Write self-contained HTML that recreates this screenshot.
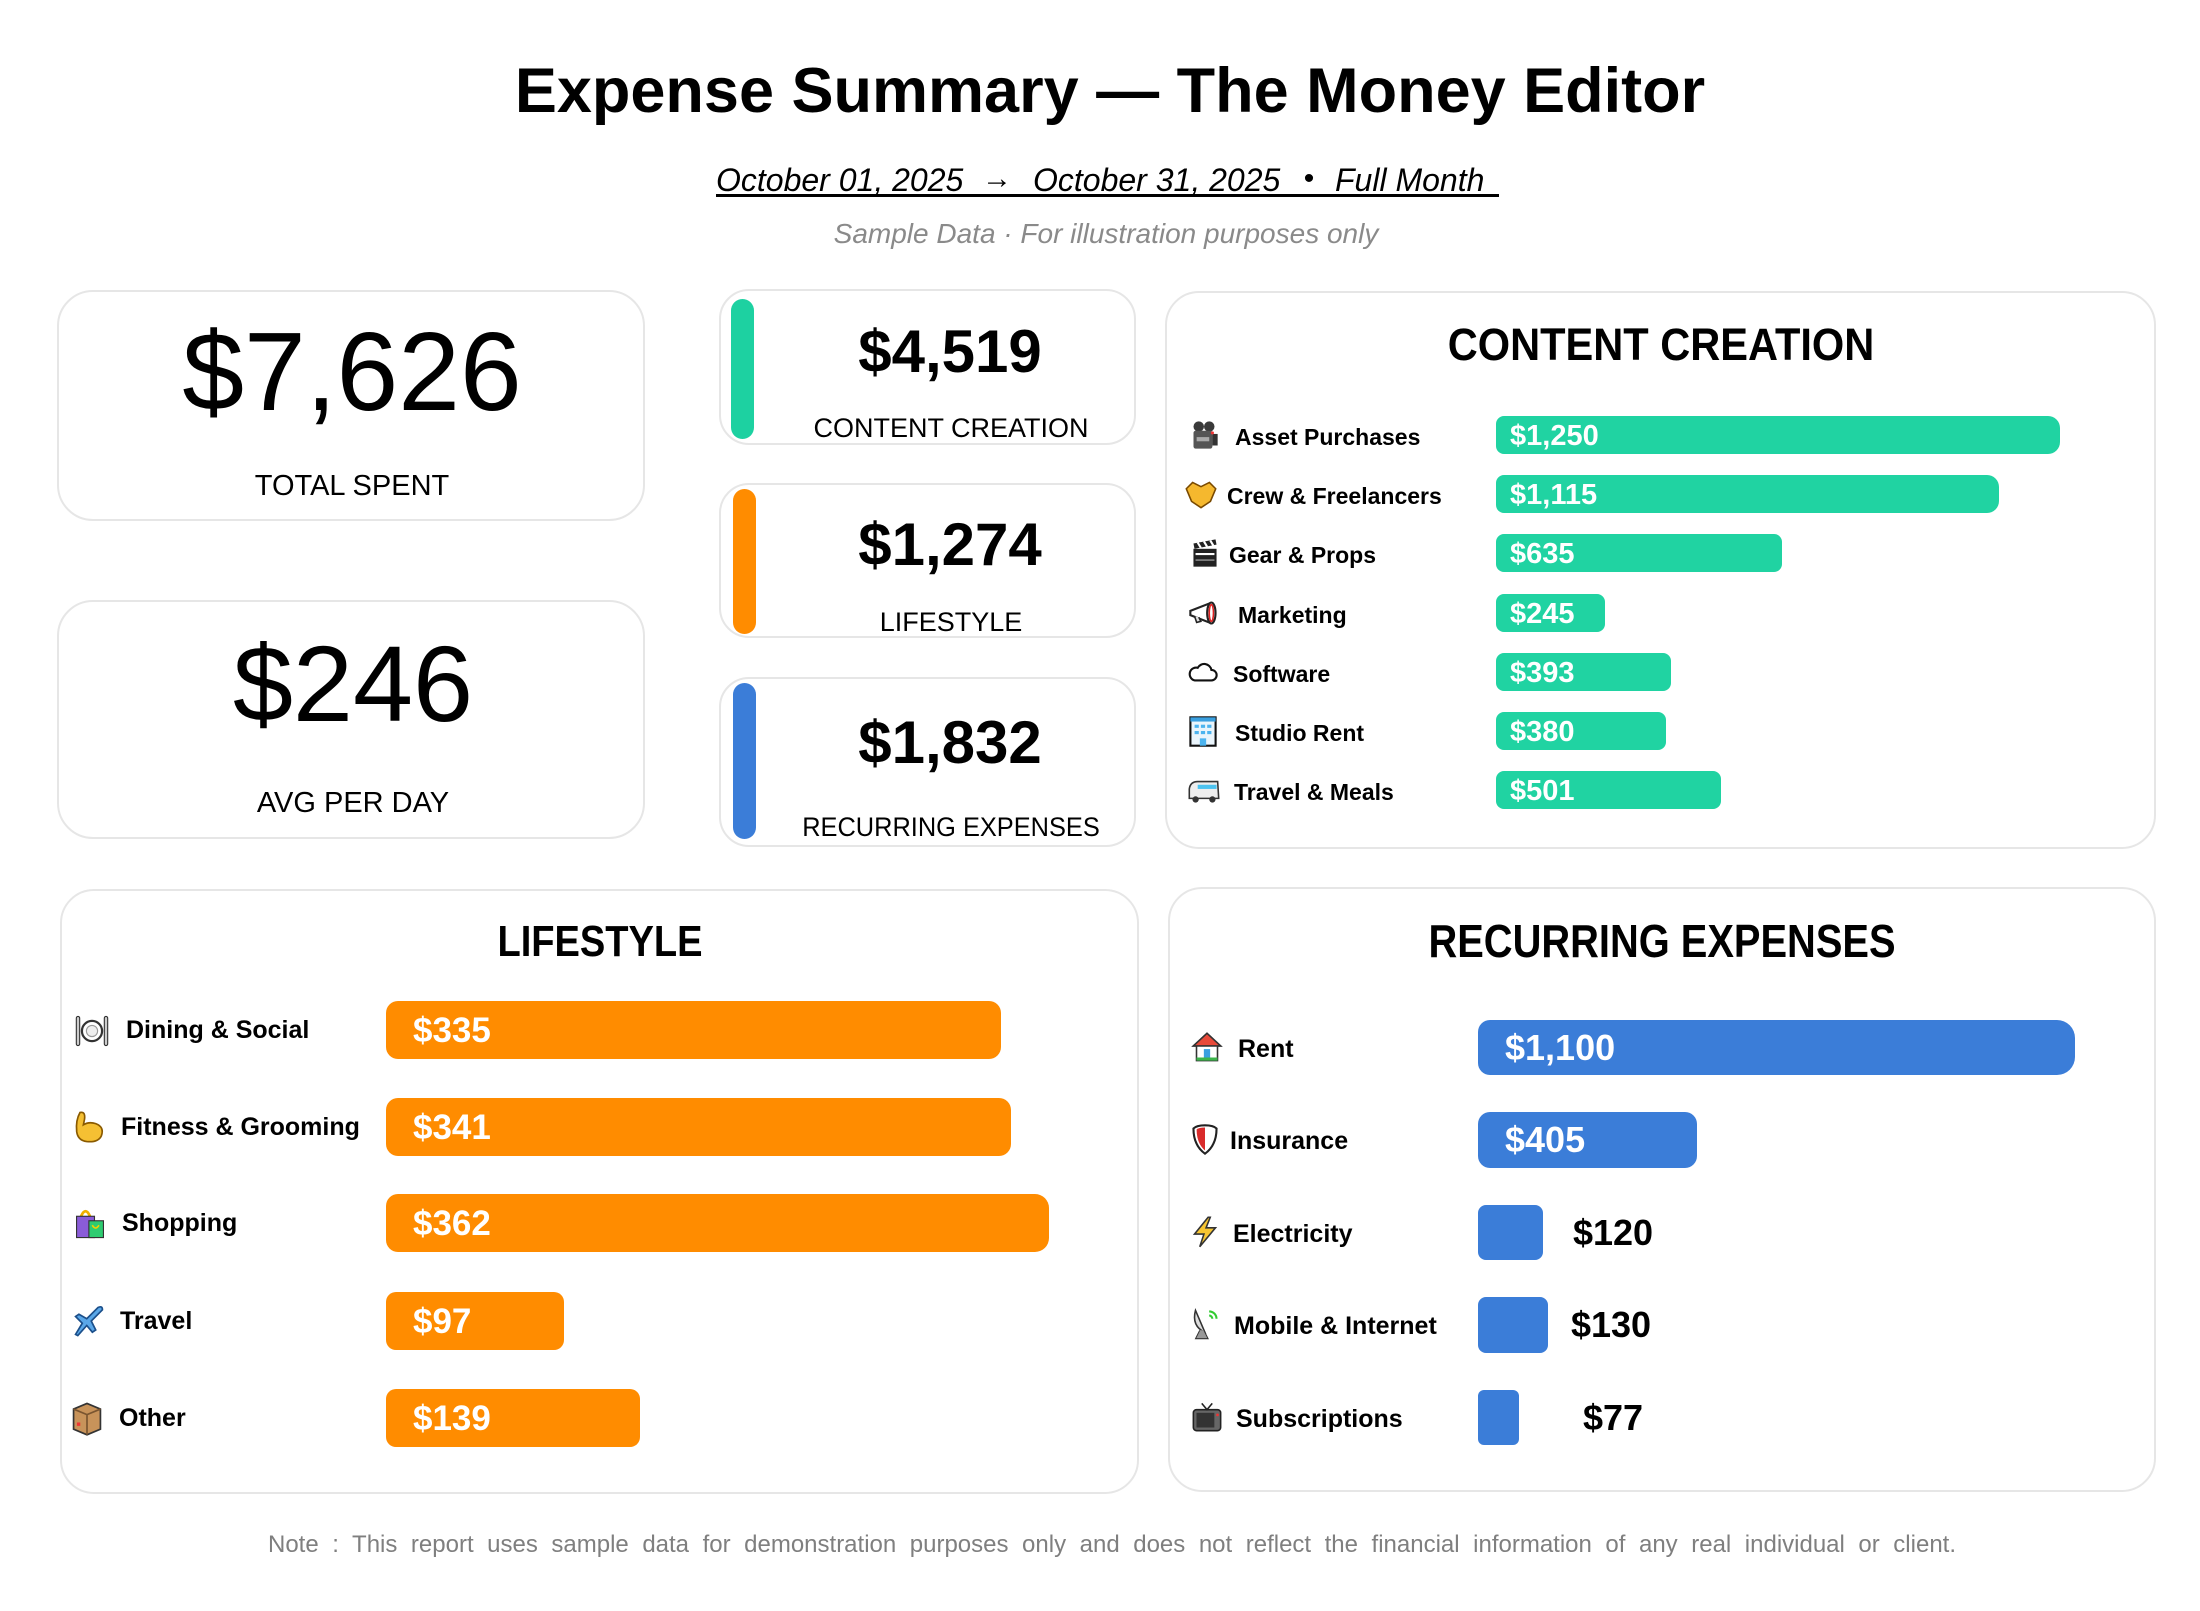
<!DOCTYPE html>
<html>
<head>
<meta charset="utf-8">
<style>
html,body{margin:0;padding:0;}
body{width:2200px;height:1611px;background:#fff;position:relative;overflow:hidden;font-family:"Liberation Sans",Arial,sans-serif;color:#000;}
.t{position:absolute;white-space:nowrap;line-height:1;}
.c{transform:translateX(-50%);}
.b{font-weight:bold;}
.card{position:absolute;border:2px solid #e6e6e6;box-sizing:border-box;background:#fff;}
.bar{position:absolute;}
.teal{background:#20d3a2;}
.org{background:#ff8c00;}
.blu{background:#3b7dd8;}
.wl{position:absolute;color:#fff;font-weight:bold;white-space:nowrap;line-height:1;}
.ic{position:absolute;transform:scale(1.12);}
</style>
</head>
<body>

<!-- Header -->
<div class="t c b" style="left:1110px;top:60px;font-size:63px;">Expense Summary — The Money Editor</div>

<div class="t" style="left:716px;top:164px;font-size:32px;font-style:italic;">October 01, 2025</div>
<div class="t c" style="left:997px;top:164px;font-size:30px;">→</div>
<div class="t" style="left:1033px;top:164px;font-size:32px;font-style:italic;">October 31, 2025</div>
<div class="t c" style="left:1309px;top:164px;font-size:30px;">•</div>
<div class="t" style="left:1335px;top:164px;font-size:32px;font-style:italic;">Full Month</div>
<div style="position:absolute;left:716px;top:194px;width:783px;height:3px;background:#000;"></div>

<div class="t c" style="left:1106px;top:220px;font-size:28px;font-style:italic;color:#8a8a8a;">Sample Data · For illustration purposes only</div>

<!-- KPI cards -->
<div class="card" style="left:57px;top:290px;width:588px;height:231px;border-radius:36px;"></div>
<div class="t c" style="left:352px;top:317px;font-size:111px;">$7,626</div>
<div class="t c" style="left:352px;top:472px;font-size:29px;">TOTAL SPENT</div>

<div class="card" style="left:57px;top:600px;width:588px;height:239px;border-radius:36px;"></div>
<div class="t c" style="left:353px;top:630px;font-size:108px;">$246</div>
<div class="t c" style="left:353px;top:789px;font-size:29px;">AVG PER DAY</div>

<!-- Middle category cards -->
<div class="card" style="left:719px;top:289px;width:417px;height:156px;border-radius:30px;"></div>
<div class="bar" style="left:731px;top:299px;width:23px;height:140px;border-radius:12px;background:#1dd1a1;"></div>
<div class="t c b" style="left:950px;top:322px;font-size:60px;">$4,519</div>
<div class="t c" style="left:951px;top:415px;font-size:27px;">CONTENT CREATION</div>

<div class="card" style="left:719px;top:483px;width:417px;height:155px;border-radius:30px;"></div>
<div class="bar" style="left:733px;top:489px;width:23px;height:145px;border-radius:12px;background:#ff8c00;"></div>
<div class="t c b" style="left:950px;top:515px;font-size:60px;">$1,274</div>
<div class="t c" style="left:951px;top:609px;font-size:27px;">LIFESTYLE</div>

<div class="card" style="left:719px;top:677px;width:417px;height:170px;border-radius:30px;"></div>
<div class="bar" style="left:733px;top:683px;width:23px;height:156px;border-radius:12px;background:#3b7dd8;"></div>
<div class="t c b" style="left:950px;top:713px;font-size:60px;">$1,832</div>
<div class="t c" style="left:951px;top:814px;font-size:27px;transform:translateX(-50%) scaleX(0.94);">RECURRING EXPENSES</div>

<!-- CONTENT CREATION panel -->
<div class="card" style="left:1165px;top:291px;width:991px;height:558px;border-radius:34px;"></div>
<div class="t b" style="left:1661px;top:322px;font-size:45px;transform:translateX(-50%) scaleX(0.924);">CONTENT CREATION</div>

<!-- row 1 -->
<svg class="ic" style="left:1189px;top:420px" width="30" height="30" viewBox="0 0 32 32"><circle cx="11" cy="8" r="5" fill="#3a3a3a"/><circle cx="21" cy="8" r="5" fill="#3a3a3a"/><rect x="6" y="12" width="18" height="17" rx="2" fill="#555"/><rect x="9" y="18" width="12" height="4" fill="#aaa"/><rect x="24" y="15" width="5" height="11" fill="#333"/><circle cx="24" cy="14" r="1.5" fill="#e33"/></svg>
<div class="t b" style="left:1235px;top:426px;font-size:23px;">Asset Purchases</div>
<div class="bar teal" style="left:1496px;top:416px;width:564px;height:38px;border-radius:8px 12px 12px 8px;"></div>
<div class="wl" style="left:1510px;top:422px;font-size:29px;">$1,250</div>

<!-- row 2 -->
<svg class="ic" style="left:1186px;top:479px" width="30" height="30" viewBox="0 0 32 32"><path d="M2 11 L8 5 L16 9 L24 5 L30 11 L25 23 L16 29 L7 23 Z" fill="#f5b82e" stroke="#7a4a00" stroke-width="1.5"/></svg>
<div class="t b" style="left:1227px;top:485px;font-size:23px;">Crew &amp; Freelancers</div>
<div class="bar teal" style="left:1496px;top:475px;width:503px;height:38px;border-radius:8px 12px 12px 8px;"></div>
<div class="wl" style="left:1510px;top:481px;font-size:29px;">$1,115</div>

<!-- row 3 -->
<svg class="ic" style="left:1190px;top:538px" width="30" height="30" viewBox="0 0 32 32"><rect x="5" y="12" width="22" height="17" fill="#222"/><path d="M5 7 L26 3 L27 8 L6 12 Z" fill="#222"/><path d="M9 6 L12 11 M15 5 L18 10 M21 4 L24 9" stroke="#fff" stroke-width="2"/><rect x="7" y="16" width="18" height="2" fill="#fff"/><rect x="7" y="22" width="18" height="1.5" fill="#888"/></svg>
<div class="t b" style="left:1229px;top:544px;font-size:23px;">Gear &amp; Props</div>
<div class="bar teal" style="left:1496px;top:534px;width:286px;height:38px;border-radius:8px;"></div>
<div class="wl" style="left:1510px;top:540px;font-size:29px;">$635</div>

<!-- row 4 -->
<svg class="ic" style="left:1189px;top:598px" width="30" height="30" viewBox="0 0 32 32"><path d="M3 14 L21 7 L21 25 L3 18 Z" fill="#fff" stroke="#222" stroke-width="2"/><ellipse cx="23" cy="16" rx="4" ry="10" fill="#fff" stroke="#222" stroke-width="2"/><ellipse cx="23" cy="16" rx="2" ry="8" fill="none" stroke="#d22" stroke-width="1.5"/><path d="M7 19 L9 25 L13 24 L11 20" fill="#ddd" stroke="#222" stroke-width="1.5"/></svg>
<div class="t b" style="left:1238px;top:604px;font-size:23px;">Marketing</div>
<div class="bar teal" style="left:1496px;top:594px;width:109px;height:38px;border-radius:8px;"></div>
<div class="wl" style="left:1510px;top:600px;font-size:29px;">$245</div>

<!-- row 5 -->
<svg class="ic" style="left:1188px;top:657px" width="30" height="30" viewBox="0 0 32 32"><path d="M8 24 h16 a5 5 0 0 0 0-10 a7 7 0 0 0-13-2 a6 6 0 0 0-3 12 z" fill="#fff" stroke="#111" stroke-width="2"/></svg>
<div class="t b" style="left:1233px;top:663px;font-size:23px;">Software</div>
<div class="bar teal" style="left:1496px;top:653px;width:175px;height:38px;border-radius:8px;"></div>
<div class="wl" style="left:1510px;top:659px;font-size:29px;">$393</div>

<!-- row 6 -->
<svg class="ic" style="left:1188px;top:716px" width="30" height="30" viewBox="0 0 32 32"><rect x="4" y="3" width="24" height="27" fill="#eaf5fc" stroke="#111" stroke-width="2"/><rect x="4" y="3" width="24" height="4" fill="#3aa0e0"/><g fill="#4cb4ef"><rect x="8" y="10" width="4" height="3"/><rect x="14" y="10" width="4" height="3"/><rect x="20" y="10" width="4" height="3"/><rect x="8" y="16" width="4" height="3"/><rect x="14" y="16" width="4" height="3"/><rect x="20" y="16" width="4" height="3"/><rect x="13" y="23" width="6" height="7"/></g></svg>
<div class="t b" style="left:1235px;top:722px;font-size:23px;">Studio Rent</div>
<div class="bar teal" style="left:1496px;top:712px;width:170px;height:38px;border-radius:8px;"></div>
<div class="wl" style="left:1510px;top:718px;font-size:29px;">$380</div>

<!-- row 7 -->
<svg class="ic" style="left:1188px;top:775px" width="32" height="30" viewBox="0 0 32 32"><path d="M2 24 L2 15 Q3 8 10 8 L29 8 L30 24 Z" fill="#eee" stroke="#333" stroke-width="1.5"/><rect x="10" y="11" width="18" height="4" fill="#4cc3f0"/><circle cx="8" cy="25" r="3" fill="#333"/><circle cx="24" cy="25" r="3" fill="#333"/></svg>
<div class="t b" style="left:1234px;top:781px;font-size:23px;">Travel &amp; Meals</div>
<div class="bar teal" style="left:1496px;top:771px;width:225px;height:38px;border-radius:8px;"></div>
<div class="wl" style="left:1510px;top:777px;font-size:29px;">$501</div>

<!-- LIFESTYLE panel -->
<div class="card" style="left:60px;top:889px;width:1079px;height:605px;border-radius:34px;"></div>
<div class="t b" style="left:600px;top:920px;font-size:44px;transform:translateX(-50%) scaleX(0.865);">LIFESTYLE</div>

<svg class="ic" style="left:76px;top:1015px" width="32" height="32" viewBox="0 0 32 32"><rect x="2" y="3" width="3" height="26" rx="1.5" fill="#ccc" stroke="#333"/><rect x="27" y="3" width="3" height="26" rx="1.5" fill="#ccc" stroke="#333"/><circle cx="16" cy="16" r="9" fill="#fff" stroke="#333" stroke-width="2"/><circle cx="16" cy="16" r="5" fill="#eee" stroke="#999"/></svg>
<div class="t b" style="left:126px;top:1018px;font-size:25px;">Dining &amp; Social</div>
<div class="bar org" style="left:386px;top:1001px;width:615px;height:58px;border-radius:12px;"></div>
<div class="wl" style="left:413px;top:1013px;font-size:35px;">$335</div>

<svg class="ic" style="left:73px;top:1111px" width="32" height="32" viewBox="0 0 32 32"><path d="M8 3 Q13 2 12 9 L11 14 Q16 11 22 13 Q30 16 27 24 Q24 30 14 29 Q6 28 5 20 Q4 10 8 3 Z" fill="#f5c033" stroke="#8a5a00" stroke-width="1.5"/></svg>
<div class="t b" style="left:121px;top:1115px;font-size:25px;">Fitness &amp; Grooming</div>
<div class="bar org" style="left:386px;top:1098px;width:625px;height:58px;border-radius:12px;"></div>
<div class="wl" style="left:413px;top:1110px;font-size:35px;">$341</div>

<svg class="ic" style="left:74px;top:1207px" width="32" height="32" viewBox="0 0 32 32"><path d="M8 10 Q12 1 16 10" fill="none" stroke="#f0b000" stroke-width="2.5"/><rect x="4" y="10" width="16" height="19" fill="#8a5cd8" stroke="#333" stroke-width="1"/><rect x="15" y="14" width="13" height="15" fill="#2ecc71" stroke="#333" stroke-width="1"/><path d="M18 18 Q21 23 24 18" fill="none" stroke="#f0d000" stroke-width="1.5"/></svg>
<div class="t b" style="left:122px;top:1211px;font-size:25px;">Shopping</div>
<div class="bar org" style="left:386px;top:1194px;width:663px;height:58px;border-radius:12px 14px 14px 12px;"></div>
<div class="wl" style="left:413px;top:1206px;font-size:35px;">$362</div>

<svg class="ic" style="left:73px;top:1305px" width="32" height="32" viewBox="0 0 32 32"><path d="M4 28 L10 18 L4 12 L7 10 L14 14 L24 4 Q28 2 28 6 L18 16 L22 24 L19 26 L14 20 L6 29 Z" fill="#5aa7e8" stroke="#1b4f8a" stroke-width="1.5"/></svg>
<div class="t b" style="left:120px;top:1309px;font-size:25px;">Travel</div>
<div class="bar org" style="left:386px;top:1292px;width:178px;height:58px;border-radius:10px;"></div>
<div class="wl" style="left:413px;top:1304px;font-size:35px;">$97</div>

<svg class="ic" style="left:71px;top:1402px" width="32" height="32" viewBox="0 0 32 32"><path d="M4 8 L16 3 L28 8 L28 26 L16 31 L4 26 Z" fill="#c8935a" stroke="#333" stroke-width="1.5"/><path d="M4 8 L16 13 L28 8 M16 13 L16 31" stroke="#7a5530" fill="none" stroke-width="1.5"/><rect x="7" y="20" width="3" height="3" fill="#e33"/></svg>
<div class="t b" style="left:119px;top:1406px;font-size:25px;">Other</div>
<div class="bar org" style="left:386px;top:1389px;width:254px;height:58px;border-radius:10px;"></div>
<div class="wl" style="left:413px;top:1401px;font-size:35px;">$139</div>

<!-- RECURRING panel -->
<div class="card" style="left:1168px;top:887px;width:988px;height:605px;border-radius:34px;"></div>
<div class="t b" style="left:1662px;top:918px;font-size:46px;transform:translateX(-50%) scaleX(0.866);">RECURRING EXPENSES</div>

<svg class="ic" style="left:1192px;top:1032px" width="30" height="30" viewBox="0 0 32 32"><path d="M16 3 L29 15 L26 15 L26 29 L6 29 L6 15 L3 15 Z" fill="#fff" stroke="#333" stroke-width="1.5"/><path d="M16 3 L29 15 L3 15 Z" fill="#e84a3a" stroke="#333" stroke-width="1.5"/><rect x="6" y="26" width="20" height="3" fill="#3cb44b"/><rect x="13" y="18" width="6" height="8" fill="#3aa0e0"/></svg>
<div class="t b" style="left:1238px;top:1037px;font-size:25px;">Rent</div>
<div class="bar blu" style="left:1478px;top:1020px;width:597px;height:55px;border-radius:12px 18px 18px 12px;"></div>
<div class="wl" style="left:1505px;top:1030px;font-size:36px;">$1,100</div>

<svg class="ic" style="left:1190px;top:1124px" width="30" height="30" viewBox="0 0 32 32"><path d="M16 3 Q24 3 27 6 Q27 22 16 30 Q5 22 5 6 Q8 3 16 3 Z" fill="#fff" stroke="#222" stroke-width="2"/><path d="M16 5 Q10 5 8 7 Q8 20 16 27 Z" fill="#d92b2b"/></svg>
<div class="t b" style="left:1230px;top:1129px;font-size:25px;">Insurance</div>
<div class="bar blu" style="left:1478px;top:1112px;width:219px;height:56px;border-radius:12px;"></div>
<div class="wl" style="left:1505px;top:1122px;font-size:36px;">$405</div>

<svg class="ic" style="left:1190px;top:1217px" width="30" height="30" viewBox="0 0 32 32"><path d="M19 2 L6 18 L15 18 L11 30 L26 12 L17 12 L21 2 Z" fill="#f7c531" stroke="#333" stroke-width="1.5"/></svg>
<div class="t b" style="left:1233px;top:1222px;font-size:25px;">Electricity</div>
<div class="bar blu" style="left:1478px;top:1205px;width:65px;height:55px;border-radius:8px;"></div>
<div class="t c b" style="left:1613px;top:1215px;font-size:36px;">$120</div>

<svg class="ic" style="left:1191px;top:1309px" width="30" height="30" viewBox="0 0 32 32"><path d="M6 3 Q2 18 15 24 Z" fill="#ddd" stroke="#333" stroke-width="1.5"/><path d="M10 22 L6 30 L18 30 L14 22" fill="#999" stroke="#333"/><path d="M19 4 a7 7 0 0 1 7 7" stroke="#3c3" stroke-width="2" fill="none"/><path d="M19 8 a3 3 0 0 1 3 3" stroke="#3c3" stroke-width="2" fill="none"/></svg>
<div class="t b" style="left:1234px;top:1314px;font-size:25px;">Mobile &amp; Internet</div>
<div class="bar blu" style="left:1478px;top:1297px;width:70px;height:56px;border-radius:8px;"></div>
<div class="t c b" style="left:1611px;top:1307px;font-size:36px;">$130</div>

<svg class="ic" style="left:1192px;top:1402px" width="30" height="30" viewBox="0 0 32 32"><rect x="3" y="9" width="26" height="20" rx="3" fill="#666" stroke="#222" stroke-width="1.5"/><rect x="6" y="12" width="17" height="14" fill="#333"/><path d="M11 3 L16 9 L21 3" stroke="#222" stroke-width="1.5" fill="none"/><circle cx="26" cy="14" r="1.3" fill="#e33"/></svg>
<div class="t b" style="left:1236px;top:1407px;font-size:25px;">Subscriptions</div>
<div class="bar blu" style="left:1478px;top:1390px;width:41px;height:55px;border-radius:6px;"></div>
<div class="t c b" style="left:1613px;top:1400px;font-size:36px;">$77</div>

<!-- Footer -->
<div style="position:absolute;left:268px;top:1533px;width:1688px;font-size:24px;line-height:1;color:#7f7f7f;white-space:nowrap;text-align:justify;text-align-last:justify;">Note : This report uses sample data for demonstration purposes only and does not reflect the financial information of any real individual or client.</div>

</body>
</html>
